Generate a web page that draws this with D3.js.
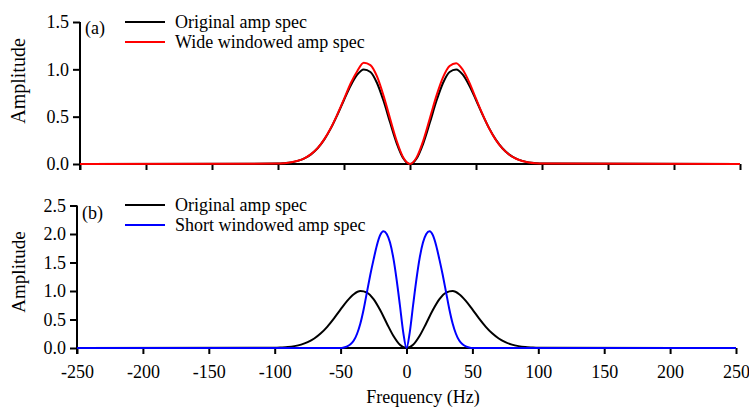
<!DOCTYPE html>
<html>
<head>
<meta charset="utf-8">
<script src="https://cdn.jsdelivr.net/npm/d3@7"></script>
<style>
  body { margin: 0; background: #fff; }
  svg { display: block; }
  text { font-family: "Liberation Serif", "Times New Roman", serif; fill: #000; }
</style>
</head>
<body>
<svg id="chart" width="749" height="407"></svg>
<script>
// ---------- data ----------
const freqOrig = [-250,-100,-95,-90,-85,-80,-75,-70,-65,-60,-55,-50,-45,-40,-35,-30,-25,-20,-15,-10,-5,0,5,10,15,20,25,30,35,40,45,50,55,60,65,70,75,80,85,90,95,100,250];
const ampOrig = [0,0.004,0.009,0.017,0.033,0.059,0.102,0.166,0.257,0.376,0.52,0.676,0.826,0.943,0.998,0.972,0.856,0.665,0.435,0.216,0.058,0,0.058,0.216,0.435,0.665,0.856,0.972,0.998,0.943,0.826,0.676,0.52,0.376,0.257,0.166,0.102,0.059,0.033,0.017,0.009,0.004,0];

const freqWide = freqOrig.slice();
const ampWide = [0,0.004,0.009,0.018,0.034,0.06,0.104,0.168,0.26,0.38,0.525,0.685,0.85,0.98,1.07,1.045,0.925,0.72,0.475,0.24,0.065,0,0.07,0.245,0.48,0.72,0.915,1.035,1.065,0.995,0.86,0.69,0.525,0.375,0.255,0.165,0.1,0.058,0.032,0.016,0.008,0.004,0];

const freqShort = [-250,-50,-47.5,-45,-42.5,-40,-37.5,-35,-32.5,-30,-27.5,-25,-22.5,-20,-17.5,-15,-12.5,-10,-7.5,-5,-2.5,0,2.5,5,7.5,10,12.5,15,17.5,20,22.5,25,27.5,30,32.5,35,37.5,40,42.5,45,47.5,50,250];
const ampShort = [0,0,0.01,0.03,0.065,0.13,0.25,0.43,0.68,0.98,1.28,1.55,1.8,1.98,2.05,2.0,1.85,1.58,1.2,0.75,0.28,0,0.28,0.75,1.2,1.58,1.85,2.0,2.05,1.98,1.8,1.55,1.28,0.98,0.68,0.43,0.25,0.13,0.065,0.03,0.01,0,0];

const xTicks = [-250,-200,-150,-100,-50,0,50,100,150,200,250];
const yTicksTop = [0,0.5,1.0,1.5];
const yTicksBottom = [0,0.5,1.0,1.5,2.0,2.5];

const legendTop = ["Original amp spec", "Wide windowed amp spec"];
const legendBottom = ["Original amp spec", "Short windowed amp spec"];
const colors = { orig: "#000000", wide: "#ff0000", short: "#0000ff" };

// ---------- drawing ----------
const svg = d3.select("#chart");
const FS = 18;
const SERIF = "'Liberation Serif', 'Times New Roman', serif";

function panel(cfg) {
  const x = d3.scaleLinear().domain([-250, 250]).range(cfg.xRange);
  const y = d3.scaleLinear().domain(cfg.yDomain).range(cfg.yRange);
  const g = svg.append("g");

  // x axis
  const xa = g.append("g")
    .attr("transform", `translate(0,${cfg.yRange[0]})`)
    .call(d3.axisBottom(x).tickValues(xTicks).tickSize(6).tickPadding(11)
      .tickFormat(cfg.xLabels ? (d => String(d)) : ""));
  xa.attr("font-family", SERIF).attr("font-size", FS);
  xa.select(".domain").attr("stroke-width", 2).attr("d", `M${cfg.xRange[0]},0H${cfg.xRange[1]}`);
  xa.selectAll(".tick line").attr("stroke-width", 2);
  xa.selectAll("text").attr("font-size", FS);

  // y axis
  const ya = g.append("g")
    .attr("transform", `translate(${cfg.xRange[0]},0)`)
    .call(d3.axisLeft(y).tickValues(cfg.yTicks).tickSize(7).tickPadding(4).tickFormat(d3.format(".1f")));
  ya.attr("font-family", SERIF).attr("font-size", FS);
  ya.select(".domain").attr("stroke-width", 2).attr("d", `M0,${cfg.yRange[1]}V${cfg.yRange[0] + 6}`);
  ya.selectAll(".tick line").attr("stroke-width", 2);
  ya.selectAll("text").attr("font-size", FS);

  // y label
  g.append("text")
    .attr("transform", `translate(${cfg.ylabX},${cfg.ylabY}) rotate(-90)`)
    .attr("text-anchor", "middle")
    .attr("font-size", cfg.ylabFS)
    .text("Amplitude");

  // curves
  cfg.series.forEach(s => {
    const pts = s.f.map((f, i) => [f, s.a[i]]);
    g.append("path")
      .datum(pts)
      .attr("fill", "none")
      .attr("stroke", s.color)
      .attr("stroke-width", 2)
      .attr("stroke-linejoin", "round")
      .attr("d", d3.line().x(d => x(d[0])).y(d => y(d[1])).curve(d3.curveMonotoneX));
  });

  // panel letter
  g.append("text").attr("x", cfg.xRange[0] + 5).attr("y", cfg.letterY)
    .attr("font-size", FS).text(cfg.letter);

  // legend
  cfg.legend.forEach((lab, i) => {
    const ly = cfg.legY + i * 20;
    g.append("line").attr("x1", 125).attr("x2", 165).attr("y1", ly).attr("y2", ly)
      .attr("stroke", cfg.series[i].color).attr("stroke-width", 2);
    g.append("text").attr("x", 175).attr("y", ly + 5.5).attr("font-size", FS).text(lab);
  });
}

panel({
  xRange: [80, 740], yDomain: [0, 1.5], yRange: [164, 22], yTicks: yTicksTop,
  xLabels: false, ylabX: 25, ylabY: 81, ylabFS: 20, letter: "(a)", letterY: 34,
  legY: 22, legend: legendTop,
  series: [{ f: freqOrig, a: ampOrig, color: colors.orig }, { f: freqWide, a: ampWide, color: colors.wide }]
});

panel({
  xRange: [77, 736], yDomain: [0, 2.5], yRange: [348, 205.5], yTicks: yTicksBottom,
  xLabels: true, ylabX: 25, ylabY: 272, ylabFS: 19, letter: "(b)", letterY: 219,
  legY: 205, legend: legendBottom,
  series: [{ f: freqOrig, a: ampOrig, color: colors.orig }, { f: freqShort, a: ampShort, color: colors.short }]
});

svg.append("text").attr("x", 423).attr("y", 403).attr("text-anchor", "middle")
  .attr("font-size", FS).text("Frequency (Hz)");
</script>
</body>
</html>
